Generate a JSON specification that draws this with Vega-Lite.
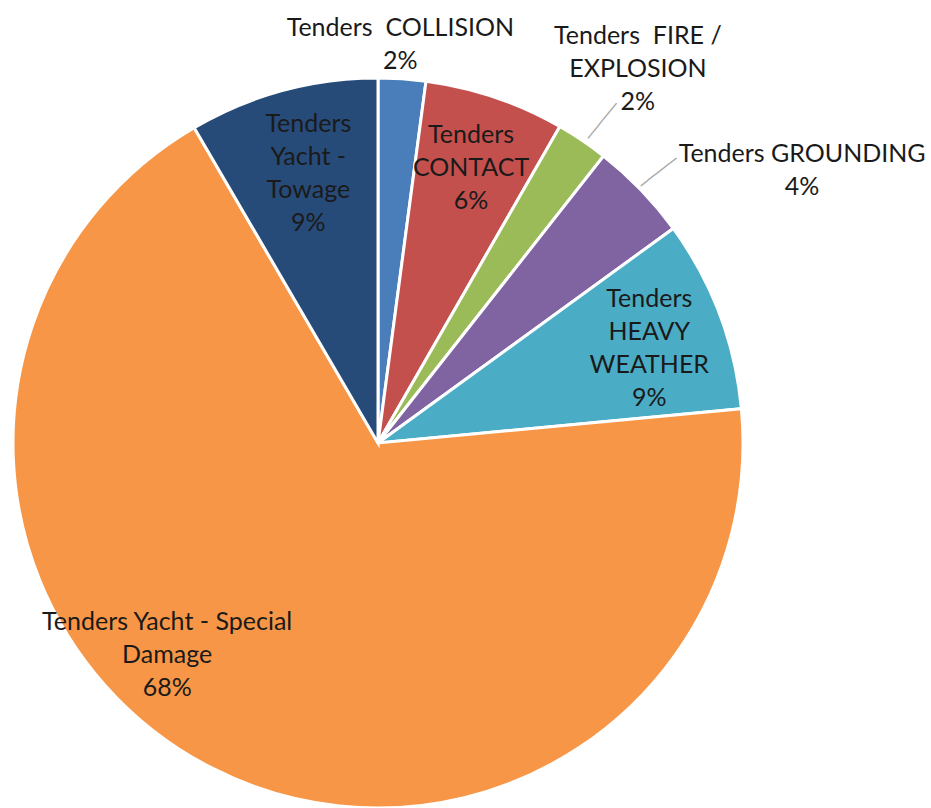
{
  "$schema": "https://vega.github.io/schema/vega-lite/v6.json",
  "width": 756,
  "height": 886,
  "autosize": {"type": "none"},
  "padding": {"left": 0, "top": 0, "right": 175, "bottom": 0},
  "background": "white",
  "config": {"view": {"stroke": null}},
  "data": {
    "values": [
      {"cat": "Tenders COLLISION", "value": 2.1, "order": 1, "label": "Tenders\u00a0 COLLISION\n2%"},
      {"cat": "Tenders CONTACT", "value": 6.2, "order": 2, "label": "Tenders\nCONTACT\n6%"},
      {"cat": "Tenders FIRE / EXPLOSION", "value": 2.3, "order": 3, "label": "Tenders\u00a0 FIRE /\nEXPLOSION\n2%"},
      {"cat": "Tenders GROUNDING", "value": 4.4, "order": 4, "label": "Tenders GROUNDING\n4%"},
      {"cat": "Tenders HEAVY WEATHER", "value": 8.5, "order": 5, "label": "Tenders\nHEAVY\nWEATHER\n9%"},
      {"cat": "Tenders Yacht - Special Damage", "value": 68.1, "order": 6, "label": "Tenders Yacht - Special\nDamage\n68%"},
      {"cat": "Tenders Yacht - Towage", "value": 8.4, "order": 7, "label": "Tenders\nYacht -\nTowage\n9%"}
    ]
  },
  "encoding": {
    "theta": {"field": "value", "type": "quantitative", "stack": true},
    "order": {"field": "order", "type": "quantitative"}
  },
  "layer": [
    {
      "mark": {"type": "arc", "outerRadius": 365, "stroke": "white", "strokeWidth": 3},
      "encoding": {
        "color": {
          "field": "cat",
          "type": "nominal",
          "legend": null,
          "scale": {
            "domain": ["Tenders COLLISION", "Tenders CONTACT", "Tenders FIRE / EXPLOSION", "Tenders GROUNDING", "Tenders HEAVY WEATHER", "Tenders Yacht - Special Damage", "Tenders Yacht - Towage"],
            "range": ["#4a7ebb", "#c4504e", "#9bbb59", "#8064a2", "#4bacc6", "#f79646", "#274b78"]
          }
        }
      }
    },
    {
      "mark": {"type": "text", "radius": 290, "dy": -33, "font": "Lato", "fontSize": 25, "lineHeight": 33, "lineBreak": "\n", "align": "center", "baseline": "middle", "color": "#1a1a1a"},
      "encoding": {
        "text": {"condition": {"test": "datum.cat === 'Tenders CONTACT'", "field": "label"}, "value": ""}
      }
    },
    {
      "mark": {"type": "text", "radius": 290, "dy": -41, "font": "Lato", "fontSize": 25, "lineHeight": 33, "lineBreak": "\n", "align": "center", "baseline": "middle", "color": "#1a1a1a"},
      "encoding": {
        "text": {"condition": {"test": "datum.cat === 'Tenders HEAVY WEATHER'", "field": "label"}, "value": ""}
      }
    },
    {
      "mark": {"type": "text", "radius": 290, "dx": 6, "dy": -39, "font": "Lato", "fontSize": 25, "lineHeight": 33, "lineBreak": "\n", "align": "center", "baseline": "middle", "color": "#1a1a1a"},
      "encoding": {
        "text": {"condition": {"test": "datum.cat === 'Tenders Yacht - Towage'", "field": "label"}, "value": ""}
      }
    },
    {
      "mark": {"type": "text", "radius": 400, "dx": -4, "dy": -16, "font": "Lato", "fontSize": 25, "lineHeight": 33, "lineBreak": "\n", "align": "center", "baseline": "middle", "color": "#1a1a1a"},
      "encoding": {
        "text": {"condition": {"test": "datum.cat === 'Tenders COLLISION'", "field": "label"}, "value": ""}
      }
    },
    {
      "mark": {"type": "text", "radius": 452, "dx": 7, "dy": -32, "font": "Lato", "fontSize": 25, "lineHeight": 33, "lineBreak": "\n", "align": "center", "baseline": "middle", "color": "#1a1a1a"},
      "encoding": {
        "text": {"condition": {"test": "datum.cat === 'Tenders FIRE / EXPLOSION'", "field": "label"}, "value": ""}
      }
    },
    {
      "mark": {"type": "text", "radius": 400, "dx": 136, "dy": -12, "font": "Lato", "fontSize": 25, "lineHeight": 33, "lineBreak": "\n", "align": "center", "baseline": "middle", "color": "#1a1a1a"},
      "encoding": {
        "text": {"condition": {"test": "datum.cat === 'Tenders GROUNDING'", "field": "label"}, "value": ""}
      }
    },
    {
      "mark": {"type": "text", "radius": 293, "dx": -77, "dy": -82, "font": "Lato", "fontSize": 25, "lineHeight": 33, "lineBreak": "\n", "align": "center", "baseline": "middle", "color": "#1a1a1a"},
      "encoding": {
        "text": {"condition": {"test": "datum.cat === 'Tenders Yacht - Special Damage'", "field": "label"}, "value": ""}
      }
    },
    {
      "mark": {"type": "text", "radius": 385, "dx": 8, "dy": 5, "angle": -51, "font": "DejaVu Sans", "fontSize": 15, "align": "center", "baseline": "middle", "color": "#a6a6a6"},
      "encoding": {
        "text": {"condition": {"test": "datum.cat === 'Tenders FIRE / EXPLOSION'", "value": "─────"}, "value": ""}
      }
    },
    {
      "mark": {"type": "text", "radius": 385, "dx": 5, "dy": -1, "angle": -38, "font": "DejaVu Sans", "fontSize": 15, "align": "center", "baseline": "middle", "color": "#a6a6a6"},
      "encoding": {
        "text": {"condition": {"test": "datum.cat === 'Tenders GROUNDING'", "value": "─────"}, "value": ""}
      }
    }
  ]
}
